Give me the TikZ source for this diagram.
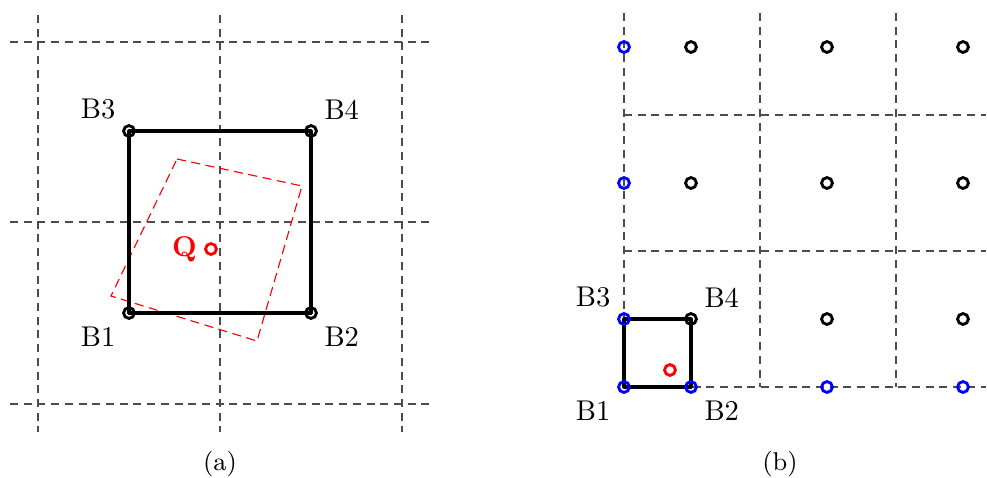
\documentclass[tikz,border=0pt]{standalone}
\usetikzlibrary{positioning}

\begin{document}
\begin{tikzpicture}[
    x=0.35pt, y=-0.35pt,
    every node/.style={font=\normalsize, align=center},
    grid/.style={draw=black!70, line width=0.45pt, dash pattern=on 2.8pt off 2pt},
    rotbox/.style={draw=red, line width=0.4pt, dash pattern=on 3.2pt off 1.9pt},
    frame/.style={draw=black, line width=1.1pt, line join=round},
    pt/.style={circle, draw=black, line width=1pt, minimum size=3.8pt, inner sep=0pt},
    ptblue/.style={pt, draw=blue},
    ptred/.style={pt, draw=red},
    lbl/.style={inner sep=3.33pt},
    caption/.style={font=\small}
]
\useasboundingbox (0,0) rectangle (987,478);

% (a) grobes Gitter mit gedrehtem Fenster
\foreach \v in {38,220,402}
    \draw[grid] (\v,15) -- (\v,432);
\foreach \h in {42,222,404}
    \draw[grid] (10,\h) -- (430,\h);

\draw[rotbox] (177,159) -- (302,186) -- (257,341) -- (111,296) -- cycle;

\coordinate (a1) at (129,313);
\coordinate (a2) at (311,313);
\coordinate (a3) at (129,131);
\coordinate (a4) at (311,131);
\draw[frame] (a1) -- (a2) -- (a4) -- (a3) -- cycle;

\node[pt] (pa1) at (a1) {};
\node[pt] (pa2) at (a2) {};
\node[pt] (pa3) at (a3) {};
\node[pt] (pa4) at (a4) {};

\node[lbl, below left=1.5pt and 1.2pt of a1] (la1) {B1};
\node[lbl, below right=1.5pt and 1.2pt of a2] (la2) {B2};
\node[lbl, above left=0.6pt and 1.2pt of a3] (la3) {B3};
\node[lbl, above right=0.6pt and 1.2pt of a4] (la4) {B4};

\node[ptred] (qa) at (211,249) {};
\node[font=\normalsize\bfseries, text=red, left=-1pt of qa] (ql) {Q};

% (b) feines Gitter
\foreach \v in {624,760,896}
    \draw[grid] (\v,13) -- (\v,387);
\foreach \h in {115,251,387}
    \draw[grid] (624,\h) -- (986,\h);

\coordinate (b1) at (624,387);
\coordinate (b2) at (691,387);
\coordinate (b3) at (624,319);
\coordinate (b4) at (691,319);
\draw[frame] (b1) -- (b2) -- (b4) -- (b3) -- cycle;

\foreach \x in {827,963}
    \foreach \y in {47,183,319}
        \node[pt] (g\x-\y) at (\x,\y) {};
\foreach \y in {47,183}
    \node[pt] (g691-\y) at (691,\y) {};
\foreach \y in {47,183}
    \node[ptblue] (e624-\y) at (624,\y) {};
\foreach \x in {827,963}
    \node[ptblue] (e\x-387) at (\x,387) {};

\node[ptblue] (pb1) at (b1) {};
\node[ptblue] (pb2) at (b2) {};
\node[ptblue] (pb3) at (b3) {};
\node[pt] (pb4) at (b4) {};

\node[lbl, below left=1.5pt and 1.2pt of b1] (lb1) {B1};
\node[lbl, below right=1.5pt and 1.2pt of b2] (lb2) {B2};
\node[lbl, above left=0.6pt and 1.2pt of b3] (lb3) {B3};
\node[lbl, above right=0.6pt and 1.2pt of b4] (lb4) {B4};

\node[ptred] (qb) at (670,370) {};

\node[caption] (capa) at (220,464) {(a)};
\node[caption] (capb) at (780,464) {(b)};
\end{tikzpicture}
\end{document}
